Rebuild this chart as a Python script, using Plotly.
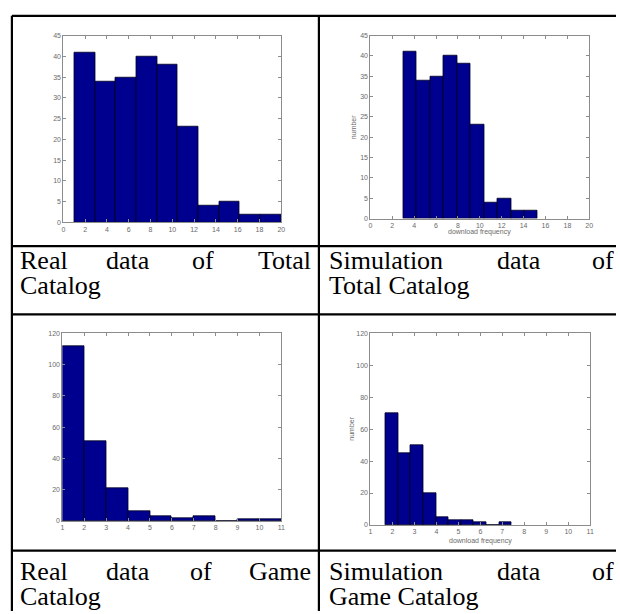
import plotly.graph_objects as go

W, H = 620, 614

# ---------------- data ----------------
# Real data of Total Catalog
edges_real_total = [1, 2.9, 4.8, 6.7, 8.6, 10.5, 12.4, 14.3, 16.2, 18.1, 20]
counts_real_total = [41, 34, 35, 40, 38, 23, 4, 5, 2, 2]
# Simulation data of Total Catalog
edges_sim_total = [3.0, 4.23, 5.46, 6.69, 7.92, 9.15, 10.38, 11.61, 12.84, 14.07, 15.3]
counts_sim_total = [41, 34, 35, 40, 38, 23, 4, 5, 2, 2]
# Real data of Game Catalog
edges_real_game = [1, 2, 3, 4, 5, 6, 7, 8, 9, 10, 11]
counts_real_game = [112, 51, 21, 6, 3, 2, 3, 0, 1, 1]
# Simulation data of Game Catalog
edges_sim_game = [1.68, 2.255, 2.83, 3.405, 3.98, 4.555, 5.13, 5.705, 6.28, 6.855, 7.43]
counts_sim_game = [70, 45, 50, 20, 5, 3, 3, 2, 0, 2]

ticks_total_x = [0, 2, 4, 6, 8, 10, 12, 14, 16, 18, 20]
ticks_total_y = [0, 5, 10, 15, 20, 25, 30, 35, 40, 45]
ticks_game_x = [1, 2, 3, 4, 5, 6, 7, 8, 9, 10, 11]
ticks_game_y = [0, 20, 40, 60, 80, 100, 120]

x_label = "download frequency"
y_label = "number"

# ---------------- helpers ----------------
def px(x):
    return x / W

def py(y):
    return 1 - y / H

BAR = "#00008F"
AX = "#8c8c8c"
TICKFONT = dict(family="Liberation Sans, Arial", size=7, color="#6a6a6a")

panels = [
    # edges, counts, xrange, yrange, xticks, yticks, (left, right, top, bottom) in px
    (edges_real_total, counts_real_total, [0, 20], [0, 45], ticks_total_x, ticks_total_y, (62, 282, 32, 221)),
    (edges_sim_total, counts_sim_total, [0, 20], [0, 45], ticks_total_x, ticks_total_y, (372, 593, 32, 217)),
    (edges_real_game, counts_real_game, [1, 11], [0, 120], ticks_game_x, ticks_game_y, (61, 282, 333, 523)),
    (edges_sim_game, counts_sim_game, [1, 11], [0, 120], ticks_game_x, ticks_game_y, (372, 594, 333, 527)),
]

fig = go.Figure()
layout_axes = {}
for i, (edges, counts, xr, yr, xt, yt, box) in enumerate(panels, start=1):
    centers = [(edges[k] + edges[k + 1]) / 2 for k in range(len(counts))]
    widths = [edges[k + 1] - edges[k] for k in range(len(counts))]
    sfx = "" if i == 1 else str(i)
    fig.add_trace(go.Bar(
        x=centers, y=counts, width=widths,
        marker=dict(color=BAR, line=dict(color="#000020", width=0.8)),
        xaxis="x" + sfx, yaxis="y" + sfx, showlegend=False, hoverinfo="x+y",
    ))
    l, r, t, b = box
    common = dict(showline=True, linecolor=AX, linewidth=1, mirror="ticks",
                  ticks="inside", ticklen=3, tickcolor=AX, tickwidth=1,
                  showgrid=False, zeroline=False, tickfont=TICKFONT, fixedrange=True)
    layout_axes["xaxis" + sfx] = dict(domain=[px(l), px(r)], range=xr, tickvals=xt,
                                      anchor="y" + sfx, **common)
    layout_axes["yaxis" + sfx] = dict(domain=[py(b), py(t)], range=yr, tickvals=yt,
                                      anchor="x" + sfx, **common)

fig.update_layout(**layout_axes)

# ---------------- table lines ----------------
shapes = []
LC = "black"
LW = 2.2
shapes.append(dict(type="line", xref="paper", yref="paper", x0=px(10), x1=px(620), y0=py(12), y1=py(12), line=dict(color=LC, width=LW)))
for yy in (245, 314, 553):
    shapes.append(dict(type="line", xref="paper", yref="paper", x0=px(10), x1=px(620), y0=py(yy), y1=py(yy), line=dict(color=LC, width=LW)))
shapes.append(dict(type="line", xref="paper", yref="paper", x0=px(10), x1=px(10), y0=py(12), y1=py(614), line=dict(color=LC, width=LW)))
shapes.append(dict(type="line", xref="paper", yref="paper", x0=px(320), x1=px(320), y0=py(12), y1=py(614), line=dict(color=LC, width=LW)))
fig.update_layout(shapes=shapes)

# ---------------- captions ----------------
CAPFONT = dict(family="Liberation Serif, Times New Roman, serif", size=26, color="black")
ann = []

def word(text, x, y, anchor="left"):
    ann.append(dict(text=text, xref="paper", yref="paper", x=px(x), y=py(y),
                    xanchor=anchor, yanchor="middle", showarrow=False, font=CAPFONT))

for (y1, y2, last) in ((259, 285, ("Total", "Total Catalog")), (574, 599, ("Game", "Game Catalog"))):
    word("Real", 16, y1)
    word("data", 103, y1)
    word("of", 190 if last[0] == "Total" else 188, y1)
    word(last[0], 314, y1, "right")
    word("Catalog", 16, y2)
    word("Simulation", 328, y1)
    word("data", 498, y1)
    word("of", 620, y1, "right")
    word(last[1], 328, y2)

# axis labels (right-hand panels)
LABFONT = dict(family="Liberation Sans, Arial", size=7, color="#6a6a6a")
for (lx, ly, tx, ty) in ((355, 125, 482, 231), (353, 430, 483, 543)):
    ann.append(dict(text=y_label, xref="paper", yref="paper", x=px(lx), y=py(ly),
                    xanchor="center", yanchor="middle", textangle=-90, showarrow=False, font=LABFONT))
    ann.append(dict(text=x_label, xref="paper", yref="paper", x=px(tx), y=py(ty),
                    xanchor="center", yanchor="middle", showarrow=False, font=LABFONT))

fig.update_layout(annotations=ann)

fig.update_layout(width=W, height=H, margin=dict(l=0, r=0, t=0, b=0),
                  paper_bgcolor="white", plot_bgcolor="white", bargap=0)

fig.write_html("out.html", config={"displayModeBar": False},
               post_script="document.body.style.margin='0';document.body.style.padding='0';document.body.style.overflow='hidden';")
